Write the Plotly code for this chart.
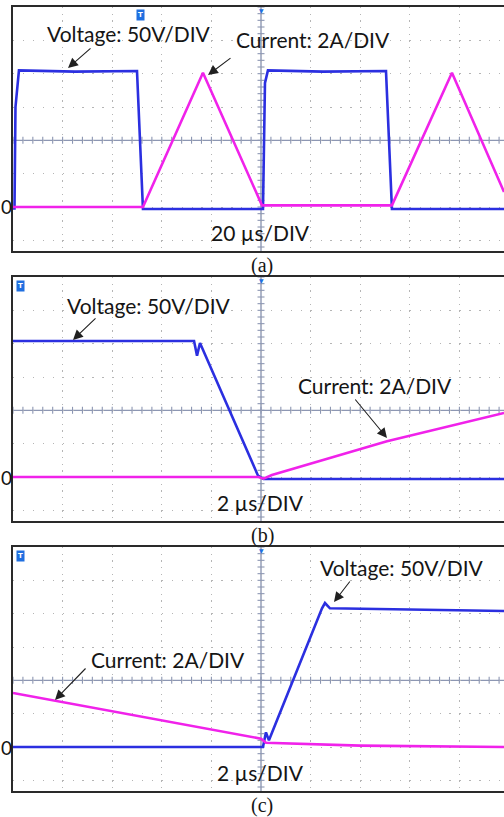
import plotly.graph_objects as go

# ---------------- data (time in µs, voltage in V, current in A) ----------------
# Panel (a): 20 µs/DIV
t_a_v = [-100, -99.4, -99.0, -97.6, -75, -50.0, -47.6, 0.8, 1.6, 2.8, 25, 50.4, 52.8, 98]
v_a = [-2, -2, 150, 205, 203, 204, -3, -3, 186, 205, 203, 204, -3, -3]
t_a_i = [-100, -47.6, -23.4, 0.0, 0.4, 52.8, 77.0, 98]
i_a = [0.0, 0.0, 8.05, 0.3, 0.1, 0.1, 8.05, 0.9]

# Panel (b): 2 µs/DIV (turn-off)
t_b_v = [-10, -2.70, -2.58, -2.46, -0.12, 0.1, 9.8]
v_b = [204, 204, 182, 201, 2, -3, -3]
t_b_i = [-10, -0.1, 0.1, 0.44, 5.08, 9.8]
i_b = [0.0, 0.0, -0.1, 0.12, 2.15, 3.84]

# Panel (c): 2 µs/DIV (turn-on)
t_c_v = [-10, 0.08, 0.2, 0.32, 2.46, 2.58, 2.78, 9.8]
v_c = [0, 0, 22, 10, 208, 216, 208, 204]
t_c_i = [-10, 0.0, 0.2, 4.0, 9.8]
i_c = [3.24, 0.5, 0.25, 0.08, 0.0]

time_div = [20, 2, 2]          # µs per division
volt_div = 50                  # V per division
amp_div = 2                    # A per division
captions = ["(a)", "(b)", "(c)"]
time_labels = ["20 µs/DIV", "2 µs/DIV", "2 µs/DIV"]
volt_label = "Voltage: 50V/DIV"
curr_label = "Current: 2A/DIV"

# ---------------- layout helpers ----------------
W, H = 504, 817
BLUE = "#2b2fe0"
MAG = "#f022ea"
CROSS = "#8d97b3"
GRID = "#b5b5b5"
TXT = "#151515"
ICON = "#1f6fe0"
FONT = "Lato"
FS = 21

def px(x):
    return x / W

def py(y):
    return 1 - y / H

panels_top = [7, 277, 547]
panel_h = 244
left_px = 13
v_lo, v_hi = -66, 300          # voltage axis range (0 V sits 2 div below centre)
i_lo, i_hi = v_lo / volt_div * amp_div, v_hi / volt_div * amp_div

series = [
    (t_a_v, v_a, t_a_i, i_a),
    (t_b_v, v_b, t_b_i, i_b),
    (t_c_v, v_c, t_c_i, i_c),
]

fig = go.Figure()
layout = dict(width=W, height=H, margin=dict(l=0, r=0, t=0, b=0),
              paper_bgcolor="white", plot_bgcolor="white", showlegend=False)
shapes = []
annotations = []

for k in range(3):
    xa = "x" if k == 0 else f"x{k+1}"
    ya_v = "y" if k == 0 else f"y{2*k+1}"
    ya_i = f"y{2*k+2}"
    xname = "xaxis" if k == 0 else f"xaxis{k+1}"
    yname_v = "yaxis" if k == 0 else f"yaxis{2*k+1}"
    yname_i = f"yaxis{2*k+2}"
    top = panels_top[k]
    bot = top + panel_h
    td = time_div[k]
    x_lo = -5 * td
    x_hi = (W - 261) / 49.6 * td

    layout[xname] = dict(domain=[px(left_px), 1.0], range=[x_lo, x_hi], anchor=ya_v,
                         dtick=td, tick0=0, showgrid=True, gridcolor=GRID, gridwidth=1.3,
                         griddash="1.3px,5.37px", zeroline=False, showticklabels=False,
                         ticks="", showline=True, linecolor="#2a2a2a", linewidth=1.6,
                         mirror=True, fixedrange=True)
    layout[yname_v] = dict(domain=[py(bot), py(top)], range=[v_lo, v_hi], anchor=xa,
                           dtick=volt_div, tick0=0, showgrid=True, gridcolor=GRID,
                           gridwidth=1.3, griddash="1.3px,8.62px", zeroline=False,
                           showticklabels=False, ticks="", showline=True,
                           linecolor="#2a2a2a", linewidth=1.6, mirror=False, fixedrange=True)
    layout[yname_i] = dict(range=[i_lo, i_hi], overlaying=ya_v, anchor=xa,
                           visible=False, fixedrange=True)

    # centre crosshair
    shapes.append(dict(type="line", xref=xa, yref=f"{ya_v} domain", x0=0, x1=0, y0=0, y1=1,
                       line=dict(color=CROSS, width=1.4), layer="below"))
    shapes.append(dict(type="line", xref=f"{xa} domain", yref=ya_v, x0=0, x1=1,
                       y0=2 * volt_div, y1=2 * volt_div,
                       line=dict(color=CROSS, width=1.4), layer="below"))
    # crosshair minor ticks (5 per division)
    n_lo = int(round(x_lo / (td / 5)))
    n_hi = int(x_hi // (td / 5))
    tx = [n * td / 5 for n in range(n_lo, n_hi + 1)]
    fig.add_trace(go.Scatter(x=tx, y=[2 * volt_div] * len(tx), xaxis=xa, yaxis=ya_v,
                             mode="markers", hoverinfo="skip",
                             marker=dict(symbol="line-ns", size=5,
                                         line=dict(color=CROSS, width=1.1))))
    vy = [n * volt_div / 5 for n in range(int(v_lo // (volt_div / 5)) + 1,
                                          int(v_hi // (volt_div / 5)) + 1)]
    fig.add_trace(go.Scatter(x=[0] * len(vy), y=vy, xaxis=xa, yaxis=ya_v,
                             mode="markers", hoverinfo="skip",
                             marker=dict(symbol="line-ew", size=5,
                                         line=dict(color=CROSS, width=1.1))))

    tv, vv, ti, ii = series[k]
    fig.add_trace(go.Scatter(x=tv, y=vv, xaxis=xa, yaxis=ya_v, mode="lines",
                             line=dict(color=BLUE, width=2.6), hoverinfo="skip"))
    fig.add_trace(go.Scatter(x=ti, y=ii, xaxis=xa, yaxis=ya_i, mode="lines",
                             line=dict(color=MAG, width=2.6), hoverinfo="skip"))

    # "0" ground label
    annotations.append(dict(text="0", xref="paper", yref=ya_v, x=0, y=0,
                            xanchor="left", yanchor="middle", showarrow=False, borderpad=0,
                            font=dict(family=FONT, size=19, color=TXT)))
    # time/div label
    annotations.append(dict(text=time_labels[k], xref="paper", yref="paper",
                            x=px(260), y=py(top + 225), xanchor="center", yanchor="middle",
                            showarrow=False, font=dict(family=FONT, size=FS, color=TXT)))
    # caption
    annotations.append(dict(text=captions[k], xref="paper", yref="paper",
                            x=px(262), y=py(top + 258), xanchor="center", yanchor="middle",
                            showarrow=False,
                            font=dict(family="Liberation Serif", size=20, color=TXT)))
    # trigger-position marker at top of centre line
    annotations.append(dict(text="▼", xref=xa, yref="paper", x=0, y=py(top + 3),
                            xanchor="center", yanchor="middle", showarrow=False,
                            font=dict(family="DejaVu Sans", size=6, color=ICON)))

# text labels and arrows (pixel positions of layout elements)
labels = [
    # (text, cx, cy, tail_x, tail_y, head_x, head_y)
    (volt_label, 129, 33, 92, 47, 68, 68),
    (curr_label, 313, 40, 232, 57, 208, 75),
    (volt_label, 149, 305, 97, 317, 73, 340),
    (curr_label, 375, 385, 354, 398, 387, 438),
    (volt_label, 402, 567, 351, 580, 334, 602),
    (curr_label, 168, 659, 87, 667, 55, 700),
]
for text, cx, cy, tx_, ty_, hx, hy in labels:
    annotations.append(dict(text=text, xref="paper", yref="paper", x=px(cx), y=py(cy),
                            xanchor="center", yanchor="middle", showarrow=False,
                            font=dict(family=FONT, size=FS, color=TXT)))
    annotations.append(dict(text="", xref="paper", yref="paper", x=px(hx), y=py(hy),
                            ax=tx_ - hx, ay=ty_ - hy, axref="pixel", ayref="pixel",
                            showarrow=True, arrowhead=2, arrowsize=1.8, arrowwidth=1.1,
                            arrowcolor="#202020", standoff=0, startstandoff=0))

# trigger "T" icons
for (tx_, ty_) in [(140, 15), (20, 286), (20, 556)]:
    annotations.append(dict(text="<b>T</b>", xref="paper", yref="paper", x=px(tx_), y=py(ty_),
                            xanchor="center", yanchor="middle", showarrow=False,
                            font=dict(family="DejaVu Sans", size=7, color="white"),
                            bgcolor=ICON, borderpad=1))

layout["shapes"] = shapes
layout["annotations"] = annotations
fig.update_layout(**layout)
fig.write_html("out.html", config={"displayModeBar": False},
               post_script="document.body.style.margin='0px';document.body.style.overflow='hidden';")
